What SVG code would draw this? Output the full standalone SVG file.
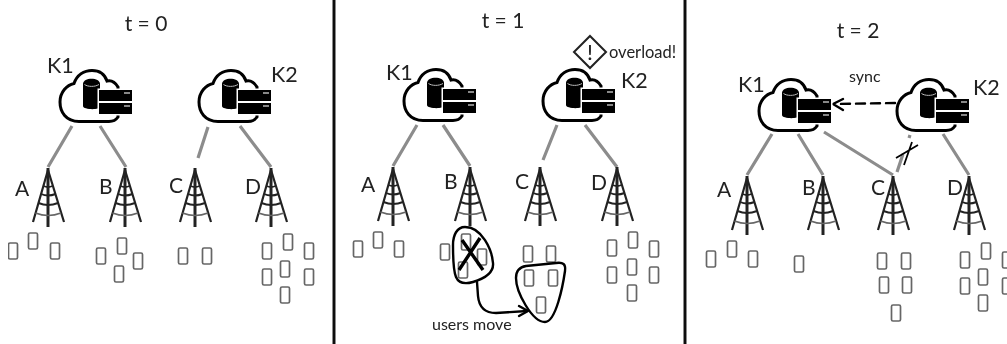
<svg xmlns="http://www.w3.org/2000/svg" width="1007" height="344" viewBox="0 0 1007 344">
<style>
text{font-family:Lato,"Open Sans","Liberation Sans",sans-serif;fill:#222}
.t{font-size:21px;text-anchor:middle}
.k{font-size:21.500px}
.l{font-size:21px}
.s{font-size:16px}
.link{stroke:#8c8c8c;stroke-width:3.2;fill:none}
.div{stroke:#111;stroke-width:3}
.ph{fill:#fff;stroke:#666;stroke-width:1.7}
.c{fill:none;stroke:#000;stroke-width:2.4;stroke-linecap:round;stroke-linejoin:round}
</style>
<defs>
<filter id="soft" x="0" y="0" width="100%" height="100%"><feGaussianBlur stdDeviation="0.5"/></filter>
<g id="cloud">
<path d="M20,52.500 C7,52.500 1,43 1,33 C1,23 8,16 15,14.500 C18,6 25,1.500 33,1.500 C41,1.500 46,6 48,12 C52,11 56,13 59,18 L59,48 C57,51 54,52.500 50,52.500 Z" fill="#fff" stroke="#000" stroke-width="3"/>
<path d="M24,15 C24,8 41,8 41,15 L41,38 C41,41 24,41 24,37 Z" fill="#000"/>
<path d="M25.500,15.500 C29,18 36,18 40,15.500" fill="none" stroke="#bbb" stroke-width="1"/>
<rect x="38.500" y="19.500" width="36" height="27" fill="#fff"/>
<rect x="40" y="21" width="33" height="11" fill="#000"/>
<rect x="40" y="34" width="33" height="11" fill="#000"/>
<rect x="65" y="23" width="6" height="2" fill="#888"/>
<rect x="65" y="36" width="6" height="2" fill="#888"/>
</g>
<g id="tower" fill="none" stroke="#222">
<path d="M0,2 L-15,54 M0,2 L16,54" stroke-width="2.200"/>
<path d="M0,0 V59" stroke-width="3"/>
<path d="M-4.500,18 Q0,20 4.500,18 M-7,26 Q0,29 7.500,26 M-9.500,35 Q0,39 10,35" stroke-width="1.900"/>
<path d="M-12.500,45 Q0,50 13,45" stroke-width="1.600" stroke="#666"/>
</g>
<rect id="phone" x="-4.500" y="-8" width="9" height="16" rx="1.500" class="ph"/>
</defs>
<g filter="url(#soft)">
<g id="dividers">
<line class="div" x1="334" y1="0" x2="334" y2="344"/>
<line class="div" x1="685" y1="0" x2="685" y2="344"/>
</g>
<g id="titles">
<text class="t" x="146" y="31">t = 0</text>
<text class="t" x="503" y="28">t = 1</text>
<text class="t" x="858" y="38">t = 2</text>
</g>
<g id="connectors">
<path class="link" d="M72,126 L48,167 M100,126 L126,167 M208,127 L198,158 M240,126 L271,167"/>
<path class="link" d="M417,125 L393,166 M443,125 L470,166 M557,125 L543,160 M585,125 L617,167"/>
<path class="link" d="M772,134 L747,175 M798,134 L823,175 M824,132 L893,175 M943,134 L969,175"/>
<path class="link" d="M910,135 L909,138 M903,154 L897,172"/>
<path class="c" d="M895,103 L836,104" stroke-dasharray="9 6"/>
<path class="c" d="M843,99 L833,104 L843,110"/>
<path d="M896,158 L918,145 M912,142 L904,165" fill="none" stroke="#000" stroke-width="1.800"/>
<path class="c" d="M477,282 L478,296 C479,307 485,313 496,313 L527,311"/>
<path class="c" d="M519,306 L528,311 L519,316"/>
</g>
<g id="panel0">
<g id="k1-0"><use href="#cloud" x="59" y="69"/><text class="k" x="47" y="73">K1</text></g>
<g id="k2-0"><use href="#cloud" x="198" y="69"/><text class="k" x="271" y="82">K2</text></g>
<g id="a-0"><use href="#tower" x="48" y="168"/><text class="l" x="15" y="196">A</text></g>
<g id="b-0"><use href="#tower" x="125" y="168"/><text class="l" x="99" y="194">B</text></g>
<g id="c-0"><use href="#tower" x="195" y="168"/><text class="l" x="169" y="193">C</text></g>
<g id="d-0"><use href="#tower" x="271" y="168"/><text class="l" x="245" y="194">D</text></g>
<g id="users-0">
<use href="#phone" x="13" y="251"/><use href="#phone" x="33" y="241"/><use href="#phone" x="55" y="251"/>
<use href="#phone" x="101" y="256"/><use href="#phone" x="122" y="246"/><use href="#phone" x="138" y="261"/><use href="#phone" x="119" y="274"/>
<use href="#phone" x="183" y="256"/><use href="#phone" x="207" y="256"/>
<use href="#phone" x="267" y="251"/><use href="#phone" x="288" y="242"/><use href="#phone" x="309" y="251"/><use href="#phone" x="267" y="277"/><use href="#phone" x="285" y="269"/><use href="#phone" x="309" y="277"/><use href="#phone" x="285" y="295"/>
</g>
</g>
<g id="panel1">
<g id="k1-1"><use href="#cloud" x="403" y="68"/><text class="k" x="386" y="80">K1</text></g>
<g id="k2-1"><use href="#cloud" x="542" y="68"/><text class="k" x="621" y="88">K2</text></g>
<g id="a-1"><use href="#tower" x="393" y="167"/><text class="l" x="361" y="192">A</text></g>
<g id="b-1"><use href="#tower" x="470" y="167"/><text class="l" x="444" y="189">B</text></g>
<g id="c-1"><use href="#tower" x="540" y="167"/><text class="l" x="515" y="189">C</text></g>
<g id="d-1"><use href="#tower" x="617" y="167"/><text class="l" x="591" y="190">D</text></g>
<g id="users-1">
<use href="#phone" x="358" y="249"/><use href="#phone" x="378" y="240"/><use href="#phone" x="399" y="249"/>
<use href="#phone" x="445" y="252"/><use href="#phone" x="466" y="242"/><use href="#phone" x="482" y="257"/><use href="#phone" x="463" y="270"/>
<use href="#phone" x="528" y="254"/><use href="#phone" x="551" y="254"/><use href="#phone" x="529" y="278"/><use href="#phone" x="553" y="278"/><use href="#phone" x="541" y="305"/>
<use href="#phone" x="612" y="248"/><use href="#phone" x="633" y="240"/><use href="#phone" x="654" y="249"/><use href="#phone" x="612" y="275"/><use href="#phone" x="632" y="267"/><use href="#phone" x="654" y="275"/><use href="#phone" x="632" y="293"/>
</g>
<g id="blob-from">
<path class="c" d="M465,227 C457,227 453,235 453,245 C453,256 453,270 456,277 C459,284 466,284 473,282 C483,279 494,273 493,263 C492,250 482,227 465,227 Z"/>
<path d="M462,240 L483,270 M480,238 L459,270" fill="none" stroke="#000" stroke-width="3.400"/>
</g>
<g id="blob-to">
<path class="c" d="M516,278 C516,270 520,267 526,266 L556,263 C563,262 566,264 565,271 C563,285 556,322 545,322 C532,322 516,292 516,278 Z"/>
</g>
<text class="s" x="432" y="330">users move</text>
<g id="overload">
<path d="M590,36 L606,52 L590,68 L574,52 Z" fill="#fff" stroke="#222" stroke-width="2"/>
<text x="590" y="60" font-size="22" text-anchor="middle">!</text>
<text x="609" y="58" font-size="16.500">overload!</text>
</g>
</g>
<g id="panel2">
<g id="k1-2"><use href="#cloud" x="758" y="78"/><text class="k" x="738" y="92">K1</text></g>
<g id="k2-2"><use href="#cloud" x="896" y="78"/><text class="k" x="973" y="95">K2</text></g>
<g id="a-2"><use href="#tower" x="747" y="176"/><text class="l" x="717" y="197">A</text></g>
<g id="b-2"><use href="#tower" x="823" y="176"/><text class="l" x="802" y="195">B</text></g>
<g id="c-2"><use href="#tower" x="893" y="176"/><text class="l" x="871" y="195">C</text></g>
<g id="d-2"><use href="#tower" x="969" y="176"/><text class="l" x="947" y="195">D</text></g>
<text class="s" x="849" y="82">sync</text>
<g id="users-2">
<use href="#phone" x="711" y="259"/><use href="#phone" x="732" y="249"/><use href="#phone" x="753" y="259"/>
<use href="#phone" x="799" y="264"/>
<use href="#phone" x="882" y="261"/><use href="#phone" x="906" y="261"/><use href="#phone" x="884" y="285"/><use href="#phone" x="907" y="285"/><use href="#phone" x="896" y="313"/>
<use href="#phone" x="965" y="260"/><use href="#phone" x="986" y="251"/><use href="#phone" x="1007" y="260"/><use href="#phone" x="965" y="286"/><use href="#phone" x="983" y="277"/><use href="#phone" x="1007" y="286"/><use href="#phone" x="983" y="303"/>
</g>
</g>
</g>
</svg>
